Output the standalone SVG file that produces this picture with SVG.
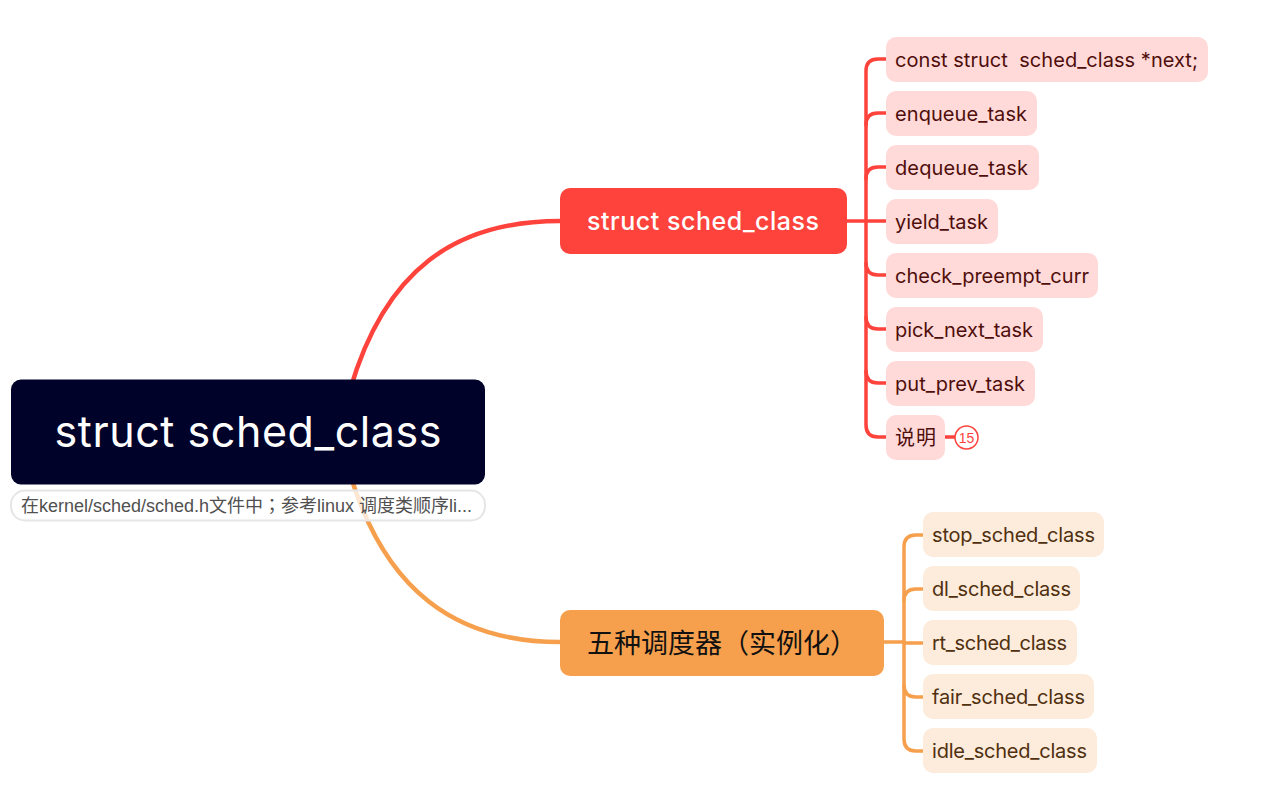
<svg xmlns="http://www.w3.org/2000/svg" width="1264" height="790" viewBox="0 0 1264 790">
<style>
text{font-family:"Inter","Noto Sans CJK SC",sans-serif}
.c{fill:none;stroke-width:3.500;stroke-linecap:round}
.m{stroke-width:4.500}
.r{stroke:#fe433c}.o{stroke:#f6a04d}
.rt rect{fill:#ffdad8}.rt text{fill:#4f0e0c;font-size:20px}
.ot rect{fill:#fdebdb}.ot text{fill:#4f300f;font-size:20px}
</style>
<rect width="1264" height="790" fill="#fff"/>
<g id="connectors">
<path class="c m r" d="M560 221C455 221 385 270 350 390"/>
<path class="c m o" d="M560 642C455 642 385 590 350 474"/>
<path class="c r" d="M847 221H888"/>
<path class="c r" d="M888 59H878Q866 59 866 71V425Q866 437 878 437H888"/>
<path class="c r" d="M888 113H878Q866 113 866 125M888 167H878Q866 167 866 179M888 275H878Q866 275 866 263M888 329H878Q866 329 866 317M888 383H878Q866 383 866 371"/>
<path class="c r" d="M945 437H955"/>
<path class="c o" d="M884 642H904"/>
<path class="c o" d="M925 535H916Q904 535 904 547V739Q904 751 916 751H925"/>
<path class="c o" d="M925 589H916Q904 589 904 601M925 643H904M925 697H916Q904 697 904 685"/>
</g>
<g id="root"><rect x="11" y="379.500" width="474" height="105" rx="10" fill="#000229"/><text x="248" y="447" font-size="43" fill="#fff" text-anchor="middle" textLength="387">struct sched_class</text></g>
<g id="note"><rect x="11" y="490.500" width="474" height="30" rx="14" fill="#fff" fill-opacity=".75" stroke="#e6e6e6" stroke-width="2"/><text x="21" y="512" font-size="18" fill="#505050" style="font-family:'Liberation Sans','Noto Sans CJK SC',sans-serif" textLength="451">在kernel/sched/sched.h文件中<tspan style="font-family:'Noto Sans CJK TC',sans-serif">；</tspan>参考linux 调度类顺序li...</text></g>
<g id="branch-red"><rect x="560" y="188" width="287" height="66" rx="10" fill="#fe433c"/><text x="703" y="229.500" font-size="25" fill="#fff" font-weight="500" text-anchor="middle" textLength="232">struct sched_class</text></g>
<g id="branch-orange"><rect x="560" y="610" width="324" height="66" rx="10" fill="#f6a04d"/><text x="587" y="652.500" font-size="27" fill="#111" textLength="270">五种调度器（实例化）</text></g>
<g class="rt">
<g id="r1"><rect x="886" y="37" width="322" height="45" rx="10"/><text x="895" y="67" textLength="303" xml:space="preserve">const struct  sched_class *next;</text></g>
<g id="r2"><rect x="886" y="91" width="151" height="45" rx="10"/><text x="895" y="121" textLength="132">enqueue_task</text></g>
<g id="r3"><rect x="886" y="145" width="153" height="45" rx="10"/><text x="895" y="175" textLength="133">dequeue_task</text></g>
<g id="r4"><rect x="886" y="199" width="112" height="45" rx="10"/><text x="895" y="229" textLength="93">yield_task</text></g>
<g id="r5"><rect x="886" y="253" width="212" height="45" rx="10"/><text x="895" y="283" textLength="194">check_preempt_curr</text></g>
<g id="r6"><rect x="886" y="307" width="157" height="45" rx="10"/><text x="895" y="337" textLength="138">pick_next_task</text></g>
<g id="r7"><rect x="886" y="361" width="149" height="45" rx="10"/><text x="895" y="391" textLength="130">put_prev_task</text></g>
<g id="r8"><rect x="886" y="415" width="59" height="45" rx="10"/><text x="895" y="445" textLength="41">说明</text></g>
</g>
<g id="badge"><circle cx="966.500" cy="437.500" r="11.500" fill="#fff" stroke="#fe433c" stroke-width="1.500"/><text x="966.500" y="442.500" font-size="14" fill="#fe433c" text-anchor="middle" style="font-family:'Liberation Sans',sans-serif">15</text></g>
<g class="ot">
<g id="o1"><rect x="923" y="512" width="181" height="45" rx="10"/><text x="932" y="542" textLength="163">stop_sched_class</text></g>
<g id="o2"><rect x="923" y="566" width="157" height="45" rx="10"/><text x="932" y="596" textLength="139">dl_sched_class</text></g>
<g id="o3"><rect x="923" y="620" width="154" height="45" rx="10"/><text x="932" y="650" textLength="135">rt_sched_class</text></g>
<g id="o4"><rect x="923" y="674" width="171" height="45" rx="10"/><text x="932" y="704" textLength="153">fair_sched_class</text></g>
<g id="o5"><rect x="923" y="728" width="174" height="45" rx="10"/><text x="932" y="758" textLength="155">idle_sched_class</text></g>
</g>
</svg>
